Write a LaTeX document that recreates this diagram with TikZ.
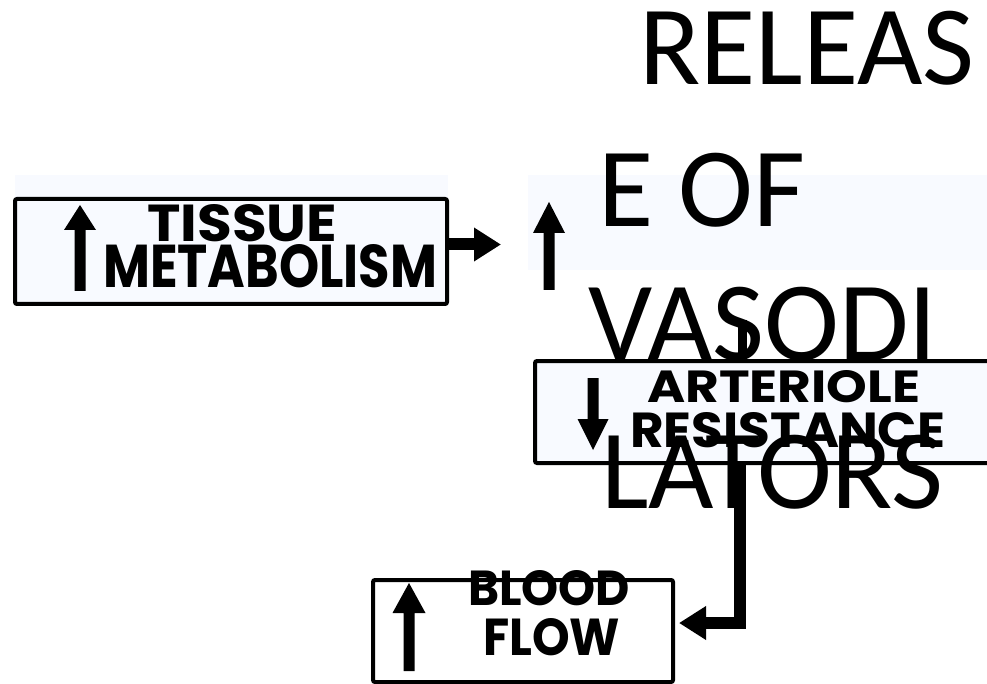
\documentclass[tikz,border=0pt]{standalone}
\usepackage{fontspec}
\usepackage{graphicx}
\usetikzlibrary{arrows.meta}
\newfontfamily\comicfont{Poppins}
\newfontfamily\calfont{Carlito}
\definecolor{lightfill}{RGB}{248,250,255}
\tikzset{
  boxnode/.style={draw=black, line width=4pt, rounded corners=2pt, fill=lightfill, inner sep=0pt},
  boxtext/.style={anchor=base west, inner sep=0pt, font=\comicfont\bfseries},
  bigtext/.style={anchor=base west, inner sep=0pt, font=\calfont\fontsize{113}{130}\selectfont},
  conn/.style={line width=12pt, -{Triangle[length=27pt,width=32pt]}},
  barline/.style={line width=9pt},
  glyph/.style={fill=black}
}
\begin{document}
\begin{tikzpicture}[x=1pt,y=-1pt]
\useasboundingbox (0,0) rectangle (987,684);
\fill[white] (0,0) rectangle (987,684);
% light text-box backgrounds
\fill[lightfill] (15,175) rectangle (448,270);
\fill[lightfill] (528,175) rectangle (987,270);
% boxes
\node[boxnode, minimum width=432pt, minimum height=105pt] (tissue) at (231,251.5) {};
\node[boxnode, minimum width=462pt, minimum height=102pt] (art) at (766,412) {};
\node[boxnode, fill=white, minimum width=300pt, minimum height=102pt] (blood) at (523,631) {};
% arrow glyphs
\fill[glyph] (80,205) -- (96,230) -- (85.5,230) -- (85.5,291) -- (74.5,291) -- (74.5,230) -- (64,230) -- cycle;
\fill[glyph] (549,202) -- (565,233) -- (554.5,233) -- (554.5,290) -- (543.5,290) -- (543.5,233) -- (533,233) -- cycle;
\fill[glyph] (593,450) -- (608.5,419) -- (598.5,419) -- (598.5,378) -- (587.5,378) -- (587.5,419) -- (577.5,419) -- cycle;
\fill[glyph] (409,583) -- (425.5,613) -- (414.5,613) -- (414.5,671) -- (403.5,671) -- (403.5,613) -- (392.5,613) -- cycle;
% box texts
\node[boxtext] (t1) at (147,242) {\resizebox{190pt}{37pt}{TISSUE}};
\node[boxtext] (t2) at (103,288) {\resizebox{334pt}{43pt}{METABOLISM}};
\node[boxtext] (a1) at (647,402) {\resizebox{273pt}{32pt}{ARTERIOLE}};
\node[boxtext] (a2) at (630,447) {\resizebox{315pt}{35pt}{RESISTANCE}};
\node[boxtext] (b1) at (468,605) {\resizebox{162pt}{35pt}{BLOOD}};
\node[boxtext] (b2) at (483,655) {\resizebox{137pt}{37pt}{FLOW}};
% connectors
\coordinate (relin) at (501,244.5);
\coordinate (relbot) at (742,320);
\coordinate (bend) at (740,623);
\draw[conn] (tissue.east |- relin) -- (relin);
\draw[barline] (relbot) -- (relbot |- art.north);
\draw[conn] (bend |- art.south) -- (bend) -- ([xshift=4pt]blood.east |- bend);
% big text
\node[bigtext] (r1) at (639,85) {RELEAS};
\node[bigtext] (r2) at (598,227) {E OF};
\node[bigtext] (r3) at (588,360) {VASODI};
\node[bigtext] (r4) at (601,508) {LATORS};
\end{tikzpicture}
\end{document}
